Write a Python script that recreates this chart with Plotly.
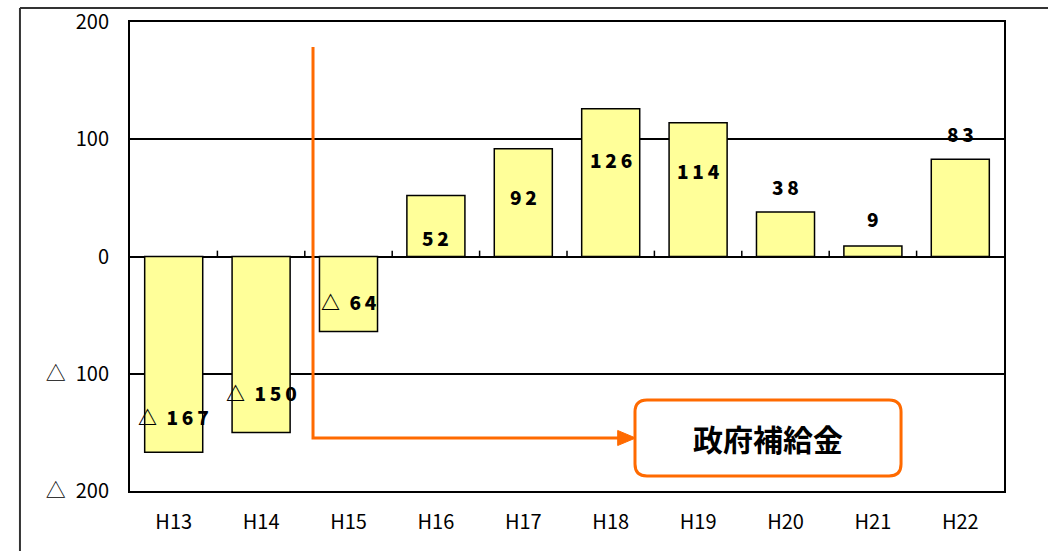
import plotly.graph_objects as go

# 年度別の収支（単位：億円）
years = ["H13", "H14", "H15", "H16", "H17", "H18", "H19", "H20", "H21", "H22"]
balance = [-167, -150, -64, 52, 92, 126, 114, 38, 9, 83]
ytick_vals = [200, 100, 0, -100, -200]
ytick_text = ["200", "100", "0", "△\u2002100", "△\u2002200"]
callout_text = "政府補給金"

# label placement relative to each bar end, in pixels (positive = upward)
label_shift = [36, 40, 30, -42, -48, -51, -48, 25, 27, 26]

ORANGE = "#FF6A00"
FONT = "Noto Sans CJK JP"


def fmt(v):
    # negative values use the triangle prefix; digits spaced apart
    digits = "\u2009".join(str(abs(v)))
    return ("△\u2002" + digits) if v < 0 else digits


fig = go.Figure()
fig.add_trace(go.Bar(
    x=years, y=balance,
    marker=dict(color="#FFFF99", line=dict(color="black", width=1.5)),
    hoverinfo="skip",
))

for i, (yr, v) in enumerate(zip(years, balance)):
    fig.add_annotation(
        x=yr, y=v, text=fmt(v), showarrow=False,
        yshift=label_shift[i], xanchor="center", yanchor="middle",
        font=dict(family=FONT, size=19, color="black", weight=900),
    )

shapes = []
# small ticks on the zero line at category boundaries
for k in range(1, len(years)):
    shapes.append(dict(type="line", xref="x", yref="y",
                       x0=k - 0.5, x1=k - 0.5, y0=0, y1=5,
                       line=dict(color="black", width=1.5)))

# outer frame (top and left edges)
shapes.append(dict(type="line", xref="paper", yref="paper",
                   x0=-0.1259, x1=1.06, y0=1.0299, y1=1.0299,
                   line=dict(color="#333333", width=2)))
shapes.append(dict(type="line", xref="paper", yref="paper",
                   x0=-0.1259, x1=-0.1259, y0=1.0299, y1=-0.14,
                   line=dict(color="#333333", width=2)))

# orange connector: vertical then horizontal toward the callout
xv, ytop, ybot, xend = 0.2094, 0.9467, 0.113, 0.560
shapes.append(dict(type="path", xref="paper", yref="paper",
                   path=f"M {xv},{ytop} L {xv},{ybot} L {xend},{ybot}",
                   line=dict(color=ORANGE, width=3)))
# arrow head
ah_w, ah_h = 0.0185, 0.016
shapes.append(dict(type="path", xref="paper", yref="paper",
                   path=f"M {xend - 0.002},{ybot + ah_h} L {xend + ah_w},{ybot} "
                        f"L {xend - 0.002},{ybot - ah_h} Z",
                   fillcolor=ORANGE, line=dict(color=ORANGE, width=1)))

# rounded callout box
bx0, bx1, by0, by1 = 0.5778, 0.8822, 0.032, 0.194
rx, ry = 0.0137, 0.0256
box_path = (f"M {bx0 + rx},{by1} L {bx1 - rx},{by1} Q {bx1},{by1} {bx1},{by1 - ry} "
            f"L {bx1},{by0 + ry} Q {bx1},{by0} {bx1 - rx},{by0} "
            f"L {bx0 + rx},{by0} Q {bx0},{by0} {bx0},{by0 + ry} "
            f"L {bx0},{by1 - ry} Q {bx0},{by1} {bx0 + rx},{by1} Z")
shapes.append(dict(type="path", xref="paper", yref="paper", path=box_path,
                   fillcolor="white", line=dict(color=ORANGE, width=3)))

fig.add_annotation(xref="paper", yref="paper",
                   x=(bx0 + bx1) / 2, y=(by0 + by1) / 2,
                   xanchor="center", yanchor="middle",
                   text=callout_text, showarrow=False,
                   font=dict(family=FONT, size=30, color="black", weight=700))

fig.update_layout(
    width=1048, height=551,
    margin=dict(l=130, r=44, t=22, b=60, autoexpand=False),
    paper_bgcolor="white", plot_bgcolor="white",
    showlegend=False, bargap=0.336,
    shapes=shapes,
    font=dict(family=FONT, size=20, color="black"),
)
fig.update_xaxes(
    showline=True, mirror=True, linecolor="black", linewidth=2,
    ticks="", showgrid=False, ticklabelstandoff=12, automargin=False,
    tickfont=dict(family=FONT, size=20),
)
fig.update_yaxes(
    range=[-200, 200], tickvals=ytick_vals, ticktext=ytick_text,
    showline=True, mirror=True, linecolor="black", linewidth=2,
    showgrid=True, gridcolor="black", gridwidth=1.5,
    zeroline=True, zerolinecolor="black", zerolinewidth=2,
    ticks="", ticklabelstandoff=15, automargin=False,
    tickfont=dict(family=FONT, size=20),
)

fig.write_html("out.html")
